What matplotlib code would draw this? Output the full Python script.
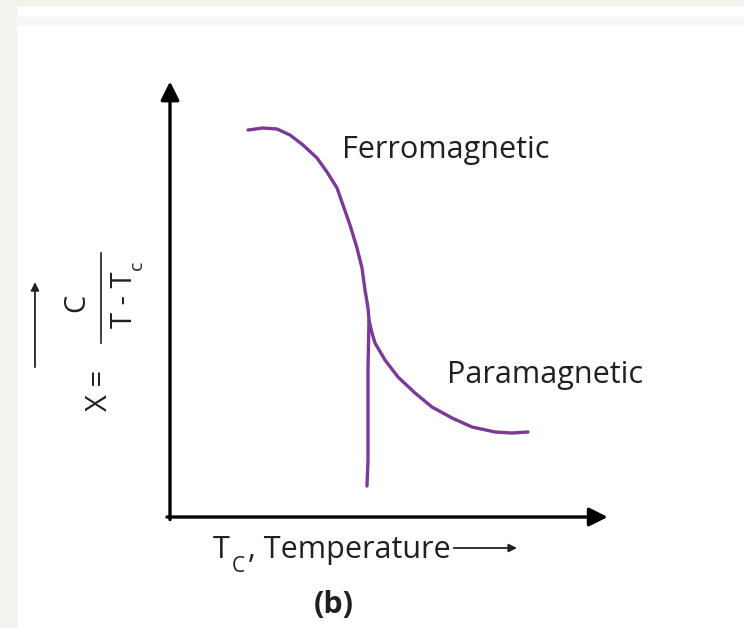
import matplotlib
matplotlib.use("Agg")
import matplotlib.pyplot as plt
from matplotlib.patches import Rectangle

plt.rcParams['font.family'] = ['Open Sans', 'DejaVu Sans']

## curve data (arbitrary units)
ferro_T = [1.814, 2.163, 2.488, 2.791, 3.093, 3.419, 3.651, 3.884, 4.023, 4.186,
           4.349, 4.465, 4.535, 4.605, 4.628]
ferro_X = [9.063, 9.110, 9.087, 8.946, 8.712, 8.407, 8.080, 7.705, 7.307, 6.838,
           6.300, 5.831, 5.316, 4.895, 4.614]
para_T = [4.628, 4.698, 4.767, 5.000, 5.302, 5.698, 6.093, 6.558, 7.023, 7.558, 7.953, 8.326]
para_X = [4.614, 4.309, 4.075, 3.677, 3.279, 2.904, 2.576, 2.319, 2.108, 1.991, 1.967, 1.991]
tc_T = [4.628, 4.605, 4.605, 4.605, 4.605, 4.581]
tc_X = [4.614, 3.513, 2.740, 1.967, 1.335, 0.726]

purple = '#7b3a96'
ink = '#231f20'

fig = plt.figure(figsize=(7.44, 6.28), dpi=100)
fig.patch.set_facecolor('white')

# light page border like the screenshot
fig.patches.append(Rectangle((0, 0), 16 / 744, 1, transform=fig.transFigure, color='#f4f2ed', zorder=0))
fig.patches.append(Rectangle((0, 1 - 5 / 628), 1, 5 / 628, transform=fig.transFigure, color='#f4f2ed', zorder=0))
fig.patches.append(Rectangle((16 / 744, 1 - 25 / 628), 1, 8 / 628, transform=fig.transFigure, color='#f6f6f6', zorder=0))

ax = fig.add_axes([170 / 744, 111 / 628, 430 / 744, 427 / 628])
ax.set_xlim(0, 10)
ax.set_ylim(0, 10)
ax.axis('off')

line_kw = dict(color=purple, lw=2.4, solid_capstyle='round', solid_joinstyle='round')
ax.plot(ferro_T + para_T[1:], ferro_X + para_X[1:], **line_kw)
ax.plot(tc_T, tc_X, **line_kw)

# axes with arrow heads
ax.annotate('', xy=(1.018, 0), xytext=(-0.007, 0), xycoords='axes fraction',
            arrowprops=dict(arrowstyle='-|>', lw=2.4, color='black', mutation_scale=28, shrinkA=0, shrinkB=0))
ax.annotate('', xy=(0, 1.02), xytext=(0, -0.006), xycoords='axes fraction',
            arrowprops=dict(arrowstyle='-|>', lw=2.4, color='black', mutation_scale=28, shrinkA=0, shrinkB=0))

ax.text(4.0, 8.407, 'Ferromagnetic', fontsize=22, va='baseline', ha='left', color=ink)
ax.text(6.442, 3.138, 'Paramagnetic', fontsize=22, va='baseline', ha='left', color=ink)

# x label
ax.text(1.0, -0.960, 'T', fontsize=22, va='baseline', ha='left', color=ink, clip_on=False)
ax.text(1.442, -1.288, 'C', fontsize=15, va='baseline', ha='left', color=ink, clip_on=False)
ax.text(1.814, -0.960, ', Temperature', fontsize=22, va='baseline', ha='left', color=ink, clip_on=False)
ax.annotate('', xy=(8.07, -0.726), xytext=(6.60, -0.726), xycoords='data',
            arrowprops=dict(arrowstyle='-|>', lw=1.3, color=ink, mutation_scale=12, shrinkA=0, shrinkB=0),
            annotation_clip=False)
ax.text(3.814, -2.248, '(b)', fontsize=22, fontweight='bold', va='baseline', ha='center',
        color=ink, clip_on=False)

# y label: X = C / (T - Tc)
ax.text(-1.651, 2.974, 'X =', fontsize=21, rotation=90, va='center', ha='center', color=ink, clip_on=False)
ax.plot([-1.605, -1.605], [4.075, 6.183], color=ink, lw=1.2, clip_on=False)
ax.text(-2.163, 5.012, 'C', fontsize=21, rotation=90, va='center', ha='center', color=ink, clip_on=False)
ax.text(-1.047, 5.082, 'T - T', fontsize=21, rotation=90, va='center', ha='center', color=ink, clip_on=False)
ax.text(-0.767, 5.902, 'c', fontsize=14, rotation=90, va='center', ha='center', color=ink, clip_on=False)
ax.annotate('', xy=(-3.14, 5.50), xytext=(-3.14, 3.51), xycoords='data',
            arrowprops=dict(arrowstyle='-|>', lw=1.3, color=ink, mutation_scale=12, shrinkA=0, shrinkB=0),
            annotation_clip=False)

fig.savefig('out.png', dpi=100, facecolor=fig.get_facecolor())
